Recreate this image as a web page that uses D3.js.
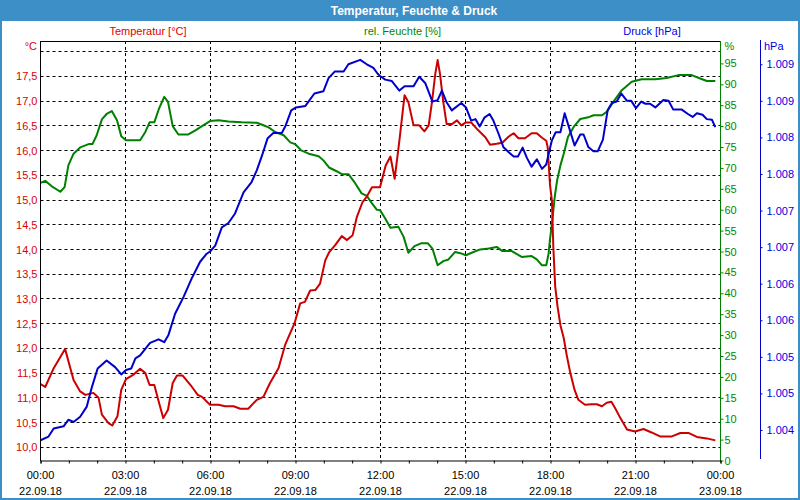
<!DOCTYPE html>
<html><head><meta charset="utf-8">
<script src="https://cdn.jsdelivr.net/npm/d3@7"></script>
<style>
body{margin:0;background:#fff;}
svg{display:block;font-family:"Liberation Sans",Arial,sans-serif;}
</style></head><body>
<svg id="chart" width="800" height="500"></svg>
<script>
const chartTitle = "Temperatur, Feuchte & Druck";
const seriesNames = ["Temperatur [°C]", "rel. Feuchte [%]", "Druck [hPa]"];
const unitLabels = ["°C", "%", "hPa"];
const dayLabels = ["22.09.18", "23.09.18"];

const tempTimes = ["00:00","00:10","00:28","00:52","01:10","01:24","01:35","01:52","02:03","02:10","02:24","02:32","02:43","02:51","03:01","03:17","03:31","03:42","03:51","04:01","04:11","04:20","04:30","04:40","04:49","05:01","05:20","05:33","05:42","05:59","06:17","06:31","06:49","07:03","07:20","07:38","07:52","08:06","08:24","08:38","08:58","09:10","09:20","09:31","09:42","09:52","10:03","10:11","10:24","10:38","10:49","11:01","11:10","11:22","11:31","11:42","11:59","12:11","12:21","12:30","12:40","12:51","12:59","13:10","13:22","13:33","13:42","13:49","13:56","14:01","14:06","14:13","14:20","14:32","14:42","14:51","15:01","15:12","15:26","15:42","15:52","16:06","16:18","16:31","16:42","16:52","17:06","17:20","17:31","17:42","17:51","17:54","17:57","17:59","18:03","18:06","18:10","18:15","18:21","18:28","18:35","18:42","18:51","18:59","19:13","19:27","19:38","19:49","19:59","20:09","20:17","20:28","20:42","20:59","21:17","21:34","21:52","22:17","22:35","22:52","23:10","23:31","23:49"];
const tempValues = [11.28,11.22,11.60,11.99,11.36,11.13,11.06,11.10,11.00,10.66,10.49,10.44,10.63,11.16,11.38,11.47,11.59,11.50,11.26,11.26,10.90,10.59,10.76,11.30,11.45,11.45,11.23,11.06,11.02,10.86,10.86,10.83,10.83,10.78,10.78,10.96,11.02,11.30,11.60,12.07,12.51,12.91,12.94,13.17,13.18,13.31,13.78,13.94,14.09,14.27,14.19,14.29,14.66,14.96,15.07,15.26,15.26,15.70,15.88,15.43,16.20,17.12,16.98,16.51,16.51,16.39,16.51,16.98,17.55,17.83,17.55,16.98,16.54,16.54,16.61,16.51,16.57,16.57,16.42,16.27,16.12,16.14,16.16,16.28,16.35,16.25,16.25,16.35,16.35,16.26,16.20,16.07,15.60,15.30,14.99,14.05,13.25,12.84,12.47,12.21,11.83,11.50,11.16,10.96,10.86,10.87,10.87,10.83,10.90,10.92,10.79,10.59,10.36,10.32,10.37,10.30,10.22,10.22,10.29,10.29,10.21,10.18,10.14];

const humTimes = ["00:00","00:10","00:24","00:42","00:51","00:59","01:10","01:24","01:42","01:50","01:59","02:10","02:20","02:31","02:42","02:51","03:01","03:17","03:31","03:42","03:51","04:01","04:11","04:22","04:30","04:40","04:52","05:13","05:28","05:42","05:59","06:17","06:38","07:06","07:38","07:52","08:03","08:17","08:35","08:49","08:59","09:12","09:28","09:49","09:59","10:11","10:27","10:38","10:52","11:06","11:20","11:31","11:42","11:52","11:59","12:10","12:21","12:38","12:49","12:59","13:12","13:27","13:40","13:50","14:01","14:13","14:24","14:38","14:49","15:01","15:13","15:31","15:49","16:06","16:18","16:38","16:59","17:20","17:31","17:42","17:51","17:56","17:59","18:03","18:09","18:14","18:21","18:28","18:37","18:49","19:03","19:20","19:31","19:49","19:59","20:13","20:31","20:52","21:13","21:42","22:06","22:31","22:59","23:17","23:31","23:49"];
const humValues = [66.4,66.9,65.6,64.3,65.4,70.6,73.4,74.9,75.7,75.7,77.8,81.6,82.9,83.6,81.4,77.6,76.6,76.6,76.6,78.6,80.9,80.9,84.2,87.0,85.8,80.0,78.0,78.0,79.0,80.0,81.2,81.4,81.1,80.9,80.8,80.2,79.7,78.6,77.8,76.1,75.7,74.2,73.4,72.8,71.8,70.1,69.2,68.5,68.5,66.4,63.9,63.3,61.5,60.0,59.9,57.9,55.7,55.9,53.5,49.7,51.3,52.0,52.0,50.7,46.7,47.7,48.1,49.9,49.6,49.1,49.7,50.5,50.7,51.1,50.1,50.1,48.7,48.9,48.1,46.7,46.7,49.5,53.0,56.5,63.1,67.0,70.6,73.4,77.4,79.8,81.7,82.1,82.6,82.6,83.4,85.8,88.6,90.6,91.2,91.2,91.5,92.2,92.2,91.4,90.8,90.8];

const pressTimes = ["00:00","00:17","00:28","00:49","00:59","01:10","01:24","01:38","01:49","02:01","02:20","02:38","02:51","03:01","03:12","03:21","03:31","03:52","04:10","04:22","04:31","04:45","05:03","05:20","05:38","05:52","05:59","06:10","06:24","06:38","06:52","07:10","07:27","07:38","07:49","08:01","08:13","08:31","08:39","08:51","09:01","09:21","09:40","09:59","10:10","10:23","10:42","10:52","11:17","11:31","11:45","11:54","11:59","12:10","12:24","12:40","12:51","13:10","13:22","13:35","13:50","14:01","14:10","14:20","14:31","14:51","15:01","15:12","15:21","15:30","15:40","15:51","15:59","16:10","16:20","16:31","16:42","16:51","17:01","17:10","17:20","17:31","17:42","17:51","17:57","18:03","18:11","18:21","18:30","18:40","18:51","19:03","19:10","19:20","19:31","19:40","19:51","20:01","20:10","20:20","20:30","20:42","20:51","21:01","21:12","21:21","21:31","21:42","21:59","22:10","22:20","22:38","22:51","23:01","23:10","23:22","23:31","23:42","23:49"];
const pressValues = [1003.86,1003.91,1004.02,1004.05,1004.14,1004.11,1004.18,1004.32,1004.59,1004.84,1004.95,1004.86,1004.76,1004.82,1004.84,1004.98,1005.02,1005.19,1005.24,1005.20,1005.30,1005.59,1005.82,1006.07,1006.30,1006.41,1006.44,1006.52,1006.77,1006.83,1006.96,1007.25,1007.39,1007.55,1007.75,1007.99,1008.06,1008.06,1008.16,1008.37,1008.41,1008.43,1008.60,1008.63,1008.81,1008.90,1008.90,1009.00,1009.06,1009.00,1008.95,1008.87,1008.84,1008.79,1008.77,1008.64,1008.70,1008.70,1008.83,1008.74,1008.49,1008.51,1008.64,1008.48,1008.37,1008.47,1008.41,1008.23,1008.25,1008.15,1008.27,1008.32,1008.23,1008.05,1007.87,1007.80,1007.74,1007.74,1007.86,1007.72,1007.60,1007.70,1007.57,1007.63,1007.80,1007.96,1008.07,1008.07,1008.33,1008.12,1007.89,1008.04,1008.04,1007.87,1007.81,1007.81,1007.97,1008.37,1008.47,1008.49,1008.60,1008.50,1008.50,1008.40,1008.49,1008.46,1008.46,1008.41,1008.51,1008.50,1008.38,1008.38,1008.32,1008.28,1008.33,1008.31,1008.25,1008.24,1008.14];

const tempGridTicks = [10,10.5,11,11.5,12,12.5,13,13.5,14,14.5,15,15.5,16,16.5,17,17.5,18];
const tempLabelTicks = [10,10.5,11,11.5,12,12.5,13,13.5,14,14.5,15,15.5,16,16.5,17,17.5];
const humTicks = [0,5,10,15,20,25,30,35,40,45,50,55,60,65,70,75,80,85,90,95];
const pressTicks = [1004,1004.5,1005,1005.5,1006,1006.5,1007,1007.5,1008,1008.5,1009];
const timeTickLabels = ["00:00","03:00","06:00","09:00","12:00","15:00","18:00","21:00","00:00"];

const colors = {temp:"#cc0000", hum:"#008000", press:"#0000cc",
  tempText:"#dd0000", humText:"#008800", pressText:"#0000dd", frame:"#3d8fc8"};

function toDate(hm, dayOffset = 0) {
  const [h, m] = hm.split(":").map(Number);
  return new Date(2018, 8, 22 + dayOffset, h, m);
}
const zip = (ts, vs) => ts.map((t, i) => ({t: toDate(t), v: vs[i]}));
const tempData = zip(tempTimes, tempValues);
const humData = zip(humTimes, humValues);
const pressData = zip(pressTimes, pressValues);

const svg = d3.select("#chart");
const L = 40.5, R = 720.5, T = 41, B = 460.5;

// window frame
svg.append("rect").attr("width", 800).attr("height", 500).attr("fill", colors.frame);
svg.append("rect").attr("x", 2).attr("y", 21).attr("width", 796).attr("height", 477).attr("fill", "#fff");
svg.append("text").attr("x", 414).attr("y", 15).attr("text-anchor", "middle")
  .attr("fill", "#fff").attr("font-weight", "bold").attr("font-size", 12).text(chartTitle);

const x = d3.scaleTime().domain([toDate("00:00"), toDate("00:00", 1)]).range([L, R]);
const yT = d3.scaleLinear().domain([9.733, 18.216]).range([B, T]);
const yH = d3.scaleLinear().domain([0, 100]).range([B, 42.5]);
const yP = d3.scaleLinear().domain([1003.583, 1009.318]).range([B, T]);
const crisp = v => Math.round(v - 0.5) + 0.5;

// grid
const grid = svg.append("g").attr("stroke", "#000").attr("stroke-dasharray", "3,3").attr("stroke-width", 1);
tempGridTicks.forEach(v => {
  grid.append("line").attr("x1", L).attr("x2", R).attr("y1", crisp(yT(v))).attr("y2", crisp(yT(v)));
});
const majorTimes = d3.range(1, 8).map(i => d3.timeHour.offset(toDate("00:00"), i * 3));
majorTimes.forEach(d => {
  grid.append("line").attr("x1", crisp(x(d))).attr("x2", crisp(x(d))).attr("y1", T).attr("y2", B);
});

// top frame line
svg.append("line").attr("x1", L).attr("x2", R).attr("y1", T + 0.5).attr("y2", T + 0.5).attr("stroke", "#000");

// series lines
function drawLine(data, y, color) {
  svg.append("path").datum(data)
    .attr("fill", "none").attr("stroke", color).attr("stroke-width", 2)
    .attr("stroke-linejoin", "round")
    .attr("d", d3.line().x(d => x(d.t)).y(d => y(d.v)));
}
drawLine(humData, yH, colors.hum);
drawLine(tempData, yT, colors.temp);
drawLine(pressData, yP, colors.press);

// left axis (temperature)
const fmtT = v => d3.format(".1f")(v).replace(".", ",");
const axL = svg.append("g").attr("transform", `translate(${L},0)`)
  .call(d3.axisLeft(yT).tickValues(tempLabelTicks).tickFormat(fmtT).tickSize(0).tickPadding(3));
axL.select(".domain").remove();
axL.selectAll("text").attr("fill", colors.tempText).attr("font-size", 11).attr("font-family", "Liberation Sans, Arial, sans-serif");
svg.append("line").attr("x1", L).attr("x2", L).attr("y1", T).attr("y2", B + 0.5).attr("stroke", "#000");

// right axis (humidity)
const axH = svg.append("g").attr("transform", `translate(${R},0)`)
  .call(d3.axisRight(yH).tickValues(humTicks).tickFormat(d3.format("d")).tickSize(3).tickPadding(1));
axH.select(".domain").remove();
axH.selectAll("line").attr("stroke", colors.hum);
axH.selectAll("text").attr("fill", colors.humText).attr("font-size", 11).attr("font-family", "Liberation Sans, Arial, sans-serif");
svg.append("line").attr("x1", R).attr("x2", R).attr("y1", T).attr("y2", B + 0.5).attr("stroke", colors.hum);

// pressure axis
const fmtP = v => { const r = Math.round(v); return Math.floor(r / 1000) + "." + String(r % 1000).padStart(3, "0"); };
const PX = 760.5;
const axP = svg.append("g").attr("transform", `translate(${PX},0)`)
  .call(d3.axisRight(yP).tickValues(pressTicks).tickFormat(fmtP).tickSize(2).tickPadding(4));
axP.select(".domain").remove();
axP.selectAll("line").attr("stroke", colors.press);
axP.selectAll("text").attr("fill", colors.pressText).attr("font-size", 11).attr("font-family", "Liberation Sans, Arial, sans-serif");
svg.append("line").attr("x1", PX).attr("x2", PX).attr("y1", 40).attr("y2", 459).attr("stroke", colors.press);

// bottom axis
const axB = svg.append("g").attr("transform", `translate(0,${B})`)
  .call(d3.axisBottom(x).ticks(d3.timeHour.every(1)).tickFormat("").tickSize(3));
axB.select(".domain").attr("stroke", "#000");
axB.selectAll("line").attr("stroke", "#000");
const labelTimes = d3.range(0, 9).map(i => d3.timeHour.offset(toDate("00:00"), i * 3));
const bl = svg.append("g").attr("font-size", 11).attr("fill", "#000").attr("text-anchor", "middle");
labelTimes.forEach((d, i) => {
  const t = bl.append("text").attr("x", x(d));
  t.append("tspan").attr("x", x(d)).attr("y", 479).text(timeTickLabels[i]);
  t.append("tspan").attr("x", x(d)).attr("y", 495).text(i === 8 ? dayLabels[1] : dayLabels[0]);
});

// series titles and unit labels
const lg = svg.append("g").attr("font-size", 11);
lg.append("text").attr("x", 148).attr("y", 35).attr("text-anchor", "middle").attr("fill", colors.tempText).text(seriesNames[0]);
lg.append("text").attr("x", 402.5).attr("y", 35).attr("text-anchor", "middle").attr("fill", colors.humText).text(seriesNames[1]);
lg.append("text").attr("x", 652).attr("y", 35).attr("text-anchor", "middle").attr("fill", colors.pressText).text(seriesNames[2]);
lg.append("text").attr("x", 37).attr("y", 50).attr("text-anchor", "end").attr("fill", colors.tempText).text(unitLabels[0]);
lg.append("text").attr("x", 724.5).attr("y", 50).attr("fill", colors.humText).text(unitLabels[1]);
lg.append("text").attr("x", 764).attr("y", 50).attr("fill", colors.pressText).text(unitLabels[2]);
</script>
</body></html>
